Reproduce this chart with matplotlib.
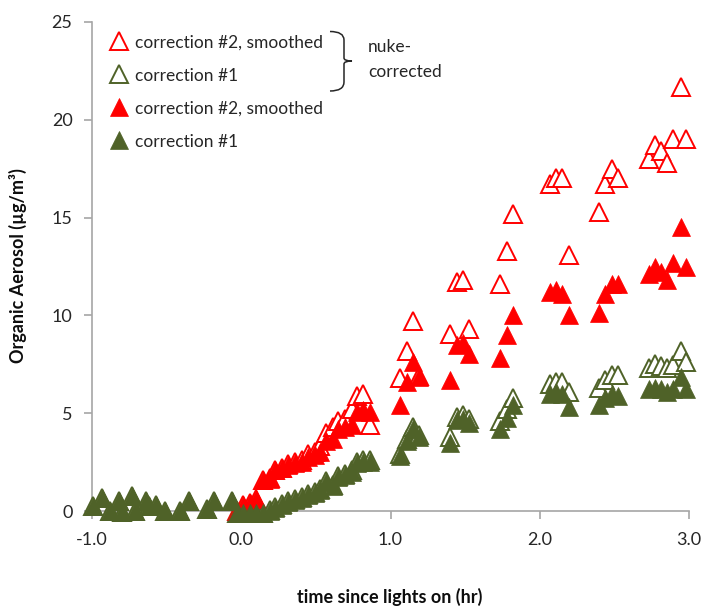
import matplotlib
matplotlib.use("Agg")
import matplotlib.pyplot as plt
from matplotlib.path import Path
from matplotlib.patches import PathPatch
import numpy as np

plt.rcParams['font.family'] = ['Lato', 'DejaVu Sans']

# ---- data ----
# before lights on (only correction #1 points)
t_pre = [-0.99, -0.93, -0.88, -0.82, -0.80, -0.73, -0.71, -0.64, -0.62, -0.57,
         -0.51, -0.41, -0.35, -0.23, -0.18, -0.06]
c1_pre = [0.25, 0.66, 0.0, 0.5, -0.05, 0.77, 0.0, 0.5, 0.25, 0.3,
          0.0, 0.0, 0.5, 0.1, 0.5, 0.5]
c1_nuke_pre = [0.25, 0.66, 0.0, 0.5, -0.05, 0.77, 0.0, 0.5, 0.25, 0.3,
               0.0, 0.0, 0.5, 0.1, 0.5, 0.5]

# after lights on
t_post = [-0.03, 0.013, 0.06, 0.10, 0.148, 0.193, 0.226, 0.27, 0.315, 0.36,
          0.405, 0.45, 0.494, 0.53, 0.57, 0.615, 0.65, 0.695, 0.74, 0.773,
          0.818, 0.863,
          1.064, 1.113, 1.148, 1.193,
          1.40, 1.443, 1.483, 1.528,
          1.734, 1.778, 1.818,
          2.069, 2.11, 2.147, 2.196,
          2.40, 2.44, 2.486, 2.527,
          2.734, 2.772, 2.81, 2.854, 2.895, 2.946, 2.98]

c2_smooth = [0.0, 0.3, 0.4, 0.6, 1.6, 1.65, 2.1, 2.2, 2.35, 2.43,
             2.5, 2.76, 2.86, 3.0, 3.6, 3.7, 4.2, 4.3, 4.4, 5.06,
             5.16, 5.06,
             5.4, 6.6, 7.6, 6.85,
             6.7, 8.5, 8.6, 8.05,
             7.8, 9.0, 10.0,
             11.2, 11.3, 11.1, 10.0,
             10.1, 11.1, 11.6, 11.6,
             12.1, 12.5, 12.2, 11.8, 12.7, 14.5, 12.5]

c2_smooth_nuke = [0.0, 0.3, 0.4, 0.6, 1.6, 1.7, 2.1, 2.2, 2.4, 2.5,
                  2.6, 2.9, 3.0, 3.3, 4.0, 4.3, 4.6, 4.7, 5.2, 5.9,
                  6.0, 4.4,
                  6.8, 8.2, 9.7, 6.9,
                  9.05, 11.7, 11.8, 9.3,
                  11.6, 13.3, 15.2,
                  16.7, 17.0, 17.0, 13.1,
                  15.3, 16.7, 17.5, 17.0,
                  18.0, 18.7, 18.4, 17.8, 19.0, 21.7, 19.0]

c1 = [-0.1, -0.1, -0.1, -0.1, -0.1, 0.0, 0.13, 0.3, 0.46, 0.55,
      0.67, 0.8, 0.9, 1.07, 1.5, 1.3, 1.75, 1.85, 2.0, 2.45,
      2.5, 2.5,
      2.8, 3.6, 4.2, 3.8,
      3.5, 4.65, 4.7, 4.5,
      4.2, 4.75, 5.4,
      6.0, 6.1, 6.0, 5.3,
      5.4, 5.8, 6.0, 5.9,
      6.25, 6.3, 6.25, 6.1, 6.25, 6.85, 6.25]

c1_nuke = [-0.1, -0.1, -0.1, -0.1, -0.1, 0.05, 0.2, 0.35, 0.5, 0.6,
           0.72, 0.85, 0.95, 1.1, 1.55, 1.35, 1.8, 1.9, 2.1, 2.5,
           2.6, 2.6,
           2.9, 3.7, 4.3, 3.9,
           3.8, 4.8, 4.9, 4.7,
           4.6, 5.2, 5.8,
           6.5, 6.6, 6.6, 6.1,
           6.3, 6.7, 6.95, 6.95,
           7.3, 7.5, 7.4, 7.3, 7.45, 8.2, 7.6]

labels = ['correction #2, smoothed', 'correction #1',
          'correction #2, smoothed', 'correction #1']
x_ticks = [-1.0, 0.0, 1.0, 2.0, 3.0]
y_ticks = [0, 5, 10, 15, 20, 25]

RED = '#ff0000'
OLIVE = '#4f6228'
GRAY = '#a6a6a6'

W, H = 704, 609
fig = plt.figure(figsize=(W / 100, H / 100), dpi=100)
ax = fig.add_axes([92 / W, 1 - 511 / H, (689 - 92) / W, (511 - 22) / H])

ms = 12.5
h1, = ax.plot(t_post, c2_smooth_nuke, linestyle='none', marker='^', ms=ms,
              mfc='white', mec=RED, mew=1.4, clip_on=False, zorder=3)
h2, = ax.plot(t_pre + t_post, c1_nuke_pre + c1_nuke, linestyle='none', marker='^',
              ms=ms, mfc='white', mec=OLIVE, mew=1.4, clip_on=False, zorder=4)
h3, = ax.plot(t_post, c2_smooth, linestyle='none', marker='^', ms=ms,
              mfc=RED, mec=RED, mew=0.5, clip_on=False, zorder=5)
h4, = ax.plot(t_pre + t_post, c1_pre + c1, linestyle='none', marker='^', ms=ms,
              mfc=OLIVE, mec=OLIVE, mew=0.5, clip_on=False, zorder=6)

ax.set_xlim(-1.0, 3.0)
ax.set_ylim(0, 25)
ax.set_xticks(x_ticks)
ax.set_xticklabels([f'{v:.1f}' for v in x_ticks])
ax.set_yticks(y_ticks)
ax.set_yticklabels([str(v) for v in y_ticks])

for s in ['top', 'right']:
    ax.spines[s].set_visible(False)
for s in ['left', 'bottom']:
    ax.spines[s].set_color(GRAY)
    ax.spines[s].set_linewidth(1.2)
ax.tick_params(axis='both', colors=GRAY, labelcolor='#262626', labelsize=13,
               length=6, width=1.2, direction='out')
ax.tick_params(axis='x', pad=9)
ax.tick_params(axis='y', pad=8)

fig.text(390 / W, 1 - 597 / H, 'time since lights on (hr)', ha='center', va='center',
         fontsize=13, fontweight='bold', color='#0d0d0d')
fig.text(18 / W, 1 - 266 / H, 'Organic Aerosol (µg/m³)', ha='center', va='center',
         rotation=90, fontsize=13, fontweight='bold', color='#0d0d0d')

leg = ax.legend([h1, h2, h3, h4], labels, loc='upper left',
                bbox_to_anchor=(110 / W, 1 - 34.5 / H), bbox_transform=fig.transFigure,
                frameon=False, fontsize=12.5, handlelength=1.0, handletextpad=0.45,
                labelspacing=0.98, borderpad=0, borderaxespad=0)
for t in leg.get_texts():
    t.set_color('#262626')

# bracket for "nuke-corrected"
def fx(px):
    return px / W

def fy(py):
    return 1 - py / H

verts = [(fx(330), fy(31.5)), (fx(344), fy(31.5)), (fx(344), fy(40)),
         (fx(344), fy(58)), (fx(344), fy(61)), (fx(352), fy(61)),
         (fx(344), fy(61)), (fx(344), fy(64)), (fx(344), fy(82)),
         (fx(344), fy(91)), (fx(330), fy(91))]
codes = [Path.MOVETO, Path.CURVE3, Path.CURVE3,
         Path.LINETO, Path.CURVE3, Path.CURVE3,
         Path.CURVE3, Path.CURVE3, Path.LINETO,
         Path.CURVE3, Path.CURVE3]
bracket = PathPatch(Path(verts, codes), transform=fig.transFigure, fill=False,
                    edgecolor='#262626', linewidth=1.1)
fig.patches.append(bracket)
fig.text(fx(368), fy(47), 'nuke-', ha='left', va='center', fontsize=12.5, color='#262626')
fig.text(fx(368), fy(72), 'corrected', ha='left', va='center', fontsize=12.5, color='#262626')

fig.savefig('out.png', dpi=100)
